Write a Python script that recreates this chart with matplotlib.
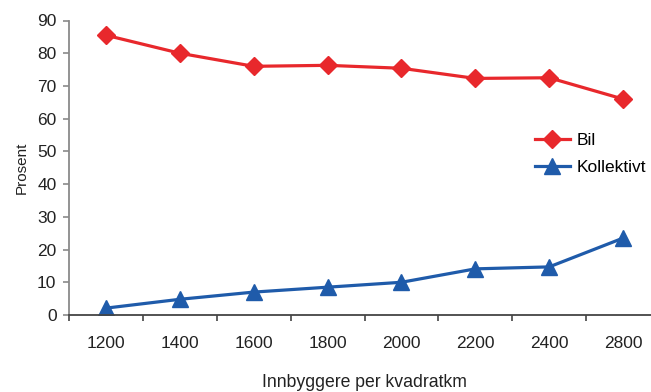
import matplotlib
matplotlib.use("Agg")
import matplotlib.pyplot as plt
import numpy as np

categories = ["1200", "1400", "1600", "1800", "2000", "2200", "2400", "2800"]
bil = [85.5, 80.0, 76.0, 76.3, 75.4, 72.3, 72.5, 66.0]
kollektivt = [2.1, 4.8, 7.0, 8.5, 10.0, 14.1, 14.7, 23.5]
y_ticks = list(range(0, 91, 10))

plt.rcParams["font.family"] = ["Liberation Sans", "DejaVu Sans"]

fig = plt.figure(figsize=(6.51, 3.92), dpi=100)
W, H = 651, 392
left, right, top, bottom = 69, 660, 20.5, 315
ax = fig.add_axes([left / W, (H - bottom) / H, (right - left) / W, (bottom - top) / H])

x = np.arange(len(categories))
red = "#E8282C"
blue = "#1F5BAA"
ax.plot(x, bil, color=red, lw=2.3, marker="D", ms=9.5, mec=red, mfc=red, label="Bil")
ax.plot(x, kollektivt, color=blue, lw=2.3, marker="^", ms=12, mec=blue, mfc=blue,
        label="Kollektivt")

ax.set_xlim(-0.5, len(categories) - 0.5)
ax.set_ylim(0, 90)
ax.set_yticks(y_ticks)
ax.set_xticks(x)
ax.set_xticklabels(categories)
ax.set_xticks(np.arange(len(categories) + 1) - 0.5, minor=True)

for s in ("top", "right"):
    ax.spines[s].set_visible(False)
ax.spines["left"].set_color("#8a8a8a")
ax.spines["left"].set_linewidth(1.3)
ax.spines["bottom"].set_color("#444444")
ax.spines["bottom"].set_linewidth(1.3)

ax.tick_params(axis="y", direction="out", length=4, width=1.2, color="#8a8a8a",
               labelsize=12.5, labelcolor="#222222", pad=5)
ax.tick_params(axis="x", which="major", length=0, labelsize=12.5,
               labelcolor="#222222", pad=15)
ax.tick_params(axis="x", which="minor", direction="out", length=4, width=1.2,
               color="#444444")

ax.set_ylabel("Prosent", fontsize=11, color="#222222", labelpad=6)
ax.set_xlabel("Innbyggere per kvadratkm", fontsize=12.7, color="#222222", labelpad=17)

ax.legend(loc="upper left",
          bbox_to_anchor=((535 - left) / (right - left), (bottom - 133) / (bottom - top)),
          frameon=False, fontsize=12.5, handlelength=2.0, handletextpad=0.4,
          labelspacing=0.7, borderaxespad=0, borderpad=0)

fig.savefig("out.png", dpi=100)
